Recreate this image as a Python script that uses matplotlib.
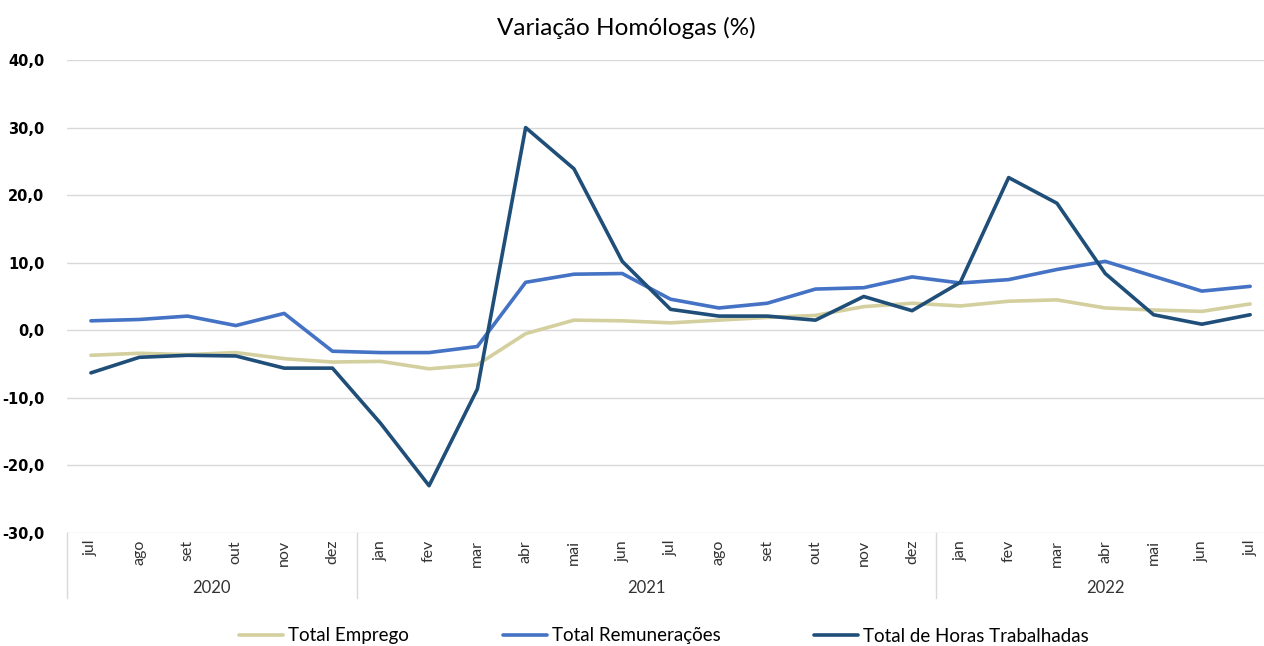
import numpy as np
import matplotlib.pyplot as plt
from matplotlib.transforms import blended_transform_factory

# months jul/2020 .. jul/2022
months = ["jul", "ago", "set", "out", "nov", "dez",
          "jan", "fev", "mar", "abr", "mai", "jun", "jul", "ago", "set", "out", "nov", "dez",
          "jan", "fev", "mar", "abr", "mai", "jun", "jul"]
years = ["2020", "2021", "2022"]
year_sizes = [6, 12, 7]

emprego = [-3.7, -3.4, -3.6, -3.3, -4.2, -4.7,
           -4.6, -5.7, -5.1, -0.5, 1.5, 1.4, 1.1, 1.5, 1.9, 2.2, 3.5, 4.0,
           3.6, 4.3, 4.5, 3.3, 3.0, 2.8, 3.9]
remuneracoes = [1.4, 1.6, 2.1, 0.7, 2.5, -3.1,
                -3.3, -3.3, -2.4, 7.1, 8.3, 8.4, 4.6, 3.3, 4.0, 6.1, 6.3, 7.9,
                7.0, 7.5, 9.0, 10.2, 8.0, 5.8, 6.5]
horas = [-6.3, -4.0, -3.7, -3.8, -5.6, -5.6,
         -13.8, -23.0, -8.7, 30.0, 23.9, 10.2, 3.1, 2.1, 2.1, 1.5, 5.0, 2.9,
         7.1, 22.6, 18.8, 8.4, 2.3, 0.9, 2.3]

series = [
    ("Total Emprego", emprego, "#D3CF9E"),
    ("Total Remunerações", remuneracoes, "#4472C4"),
    ("Total de Horas Trabalhadas", horas, "#1F4E79"),
]

W, H = 1264, 646
fig = plt.figure(figsize=(W / 100, H / 100), dpi=100)
ax = fig.add_axes([66.8 / W, 1 - 533 / H, 1207.5 / W, (533 - 60) / H])

x = np.arange(len(months))
for name, vals, col in series:
    ax.plot(x, vals, color=col, lw=2.6, label=name, solid_capstyle="round", zorder=3)

ax.set_xlim(-0.5, len(months) - 0.5)
ax.set_ylim(-30, 40)
ax.set_yticks(np.arange(-30, 41, 10))
ax.set_yticklabels([f"{v:.1f}".replace(".", ",") for v in np.arange(-30, 41, 10)],
                   fontsize=10.5, fontweight="bold", family="DejaVu Sans")
ax.grid(axis="y", color="#D9D9D9", lw=1)
ax.set_axisbelow(True)
for s in ax.spines.values():
    s.set_visible(False)
ax.tick_params(axis="y", length=0, pad=16)

ax.set_xticks(x)
ax.set_xticklabels(months, rotation=90, fontsize=11.5, family="Lato", color="#333333",
                   va="top")
ax.tick_params(axis="x", length=0, pad=5)

# grouped year axis
tr = blended_transform_factory(ax.transData, ax.transAxes)
bounds = [-0.5]
for n in year_sizes:
    bounds.append(bounds[-1] + n)
for b in bounds[:-1]:
    ax.plot([b, b], [0, -0.138], transform=tr, color="#D9D9D9", lw=1, clip_on=False)
for i, yr in enumerate(years):
    mid = (bounds[i] + bounds[i + 1]) / 2
    ax.text(mid, -0.117, yr, transform=tr, ha="center", va="center",
            fontsize=12, family="Lato", color="#333333")

fig.text(626 / W, 1 - 28 / H, "Variação Homólogas (%)", ha="center", va="center",
         fontsize=17.5, family="Lato", color="black")

fig.legend(loc="center", bbox_to_anchor=(664 / W, 1 - 636 / H), ncol=3, frameon=False,
           prop={"family": "Lato", "size": 13.5}, handlelength=2.35, handletextpad=0.27,
           columnspacing=5.0)

fig.savefig("out.png", dpi=100, facecolor="white")
